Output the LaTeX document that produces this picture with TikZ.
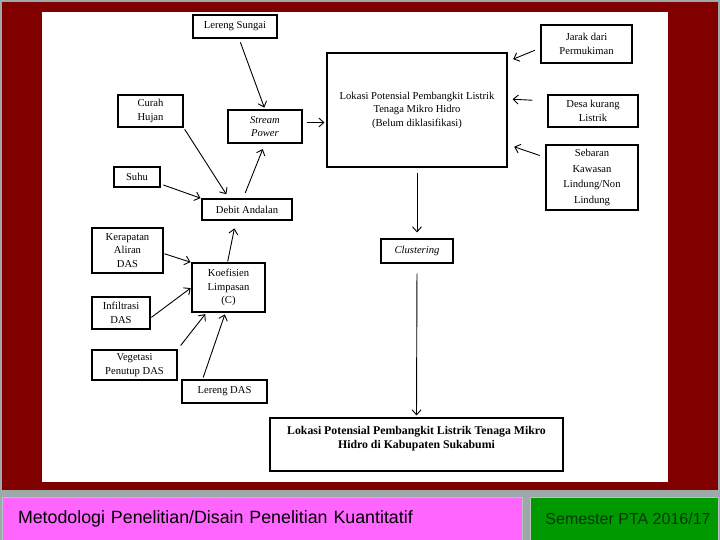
\documentclass[tikz,border=0pt]{standalone}
\usepackage{fontspec}
\setmainfont{Liberation Serif}
\newfontfamily\footfont{Liberation Sans}
\usetikzlibrary{arrows.meta}
\definecolor{framered}{HTML}{800000}
\definecolor{slidegray}{HTML}{9DA9A9}
\definecolor{footpink}{HTML}{FF66FF}
\definecolor{footgreen}{HTML}{009900}
\definecolor{footgreentext}{HTML}{063806}
\tikzstyle{box} = [
    rectangle,
    draw=black,
    line width=1.1pt,
    inner sep=1pt,
    align=center,
    font=\fontsize{10.6}{13.5}\selectfont
]
\tikzstyle{result} = [
    rectangle,
    draw=black,
    line width=1.1pt,
    align=center,
    font=\fontsize{11.8}{14}\selectfont\bfseries
]
\tikzstyle{arrow} = [line width=0.9pt,-{Straight Barb[length=5pt,width=9pt]}]

\begin{document}
\begin{tikzpicture}[x=1pt,y=-1pt]

% slide background
\useasboundingbox (0,0) rectangle (720,540);
\fill[slidegray] (0,0) rectangle (720,540);
\fill[framered] (2,2) rectangle (718,490);
\fill[white] (42,12) rectangle (668,482);

% boxes
\node (lereng) [box, minimum width=84pt, minimum height=23pt] at (235,26.5) {Lereng Sungai};
\node (curah) [box, minimum width=65pt, minimum height=32pt] at (150.5,111) {Curah\\Hujan};
\node (stream) [box, minimum width=74pt, minimum height=33pt] at (265,126.5) {\textit{Stream}\\\textit{Power}};
\node (suhu) [box, minimum width=46pt, minimum height=20pt] at (137,177) {Suhu};
\node (debit) [box, minimum width=90pt, minimum height=21pt] at (247,209.5) {Debit Andalan};
\node (lokasi) [box, minimum width=180pt, minimum height=114pt] at (417,110)
{Lokasi Potensial Pembangkit Listrik\\Tenaga Mikro Hidro\\(Belum diklasifikasi)};
\node (jarak) [box, minimum width=91pt, minimum height=38pt] at (586.5,44) {Jarak dari\\Permukiman};
\node (desa) [box, minimum width=90pt, minimum height=32pt] at (593,111) {Desa kurang\\Listrik};
\node (sebaran) [box, minimum width=92pt, minimum height=65pt, font=\fontsize{10.6}{15.5}\selectfont] at (592,177.5)
{Sebaran\\Kawasan\\Lindung/Non\\Lindung};
\node (clustering) [box, minimum width=72pt, minimum height=24pt] at (417,251) {\textit{Clustering}};
\node (kerapatan) [box, minimum width=71pt, minimum height=45pt] at (127.5,250.5) {Kerapatan\\Aliran\\DAS};
\node (koefisien) [box, minimum width=73pt, minimum height=49pt] at (228.5,287.5) {Koefisien\\Limpasan\\(C)};
\node (infiltrasi) [box, minimum width=58pt, minimum height=32pt] at (121,313) {Infiltrasi\\DAS};
\node (vegetasi) [box, minimum width=85pt, minimum height=30pt] at (134.5,365) {Vegetasi\\Penutup DAS};
\node (lerengdas) [box, minimum width=85pt, minimum height=23pt] at (224.5,391.5) {Lereng DAS};
\node (hasil) [result, minimum width=293pt, minimum height=53pt] at (416.5,444.5)
{Lokasi Potensial Pembangkit Listrik Tenaga Mikro\\Hidro di Kabupaten Sukabumi\\[1pt]\mbox{}};

% footer
\node (footleft) [fill=footpink, draw=slidegray!70!white, minimum width=520pt, minimum height=43pt,
  text width=488pt, font=\footfont\fontsize{17.8}{20}\selectfont] at (262,518.5)
{Metodologi Penelitian/Disain Penelitian Kuantitatif};
\node (footright) [fill=footgreen, draw=slidegray!70!white, minimum width=188pt, minimum height=43pt,
  text=footgreentext, font=\footfont\fontsize{16}{18}\selectfont] at (624,518.5)
{\hspace*{8pt}Semester PTA 2016/17};

% arrows
\draw [arrow, shorten <=4pt, shorten >=2pt] ([xshift=4pt]lereng.south) -- (stream.north);
\draw [arrow, shorten <=2pt, shorten >=5pt] (curah.south east) -- ([xshift=-18pt]debit.north);
\draw [arrow, shorten <=3pt, shorten >=1pt] ([yshift=-7pt]suhu.east) -- (debit.north west);
\draw [arrow, shorten <=6pt, shorten >=6pt] ([xshift=-4pt]debit.north) -- (stream.south);
\draw [arrow, shorten <=4pt, shorten >=2pt] ([yshift=4pt]stream.east) -- ([yshift=4pt]stream.east -| lokasi.west);
\draw [arrow, shorten <=6pt, shorten >=6pt] ([yshift=-4pt]jarak.west) -- ([yshift=-9pt]lokasi.north east);
\draw [arrow, shorten <=15pt, shorten >=5pt] ([yshift=10pt]desa.west) -- ([yshift=11pt]lokasi.east);
\draw [arrow, shorten <=6pt, shorten >=7pt] ([yshift=-13pt]sebaran.north west) -- ([yshift=23pt]lokasi.south east);
\draw [arrow, shorten <=5pt, shorten >=6pt] (lokasi.south) -- (clustering.north);
\draw [arrow, shorten <=10pt, shorten >=2pt] (clustering.south) -- (hasil.north);
\draw [arrow, shorten <=1pt, shorten >=8pt] ([xshift=-1pt]koefisien.north) -- ([xshift=-11pt]debit.south);
\draw [arrow, shorten <=1pt, shorten >=1pt] ([yshift=-3pt]kerapatan.east) -- (koefisien.north west);
\draw [arrow, shorten <=1pt, shorten >=1pt] ([yshift=-5pt]infiltrasi.east) -- (koefisien.west);
\draw [arrow, shorten <=5pt, shorten >=2pt] (vegetasi.north east) -- ([xshift=-22pt]koefisien.south);
\draw [arrow, shorten <=2pt, shorten >=2pt] ([xshift=-22pt]lerengdas.north) -- ([xshift=-3pt]koefisien.south);

\end{tikzpicture}
\end{document}
